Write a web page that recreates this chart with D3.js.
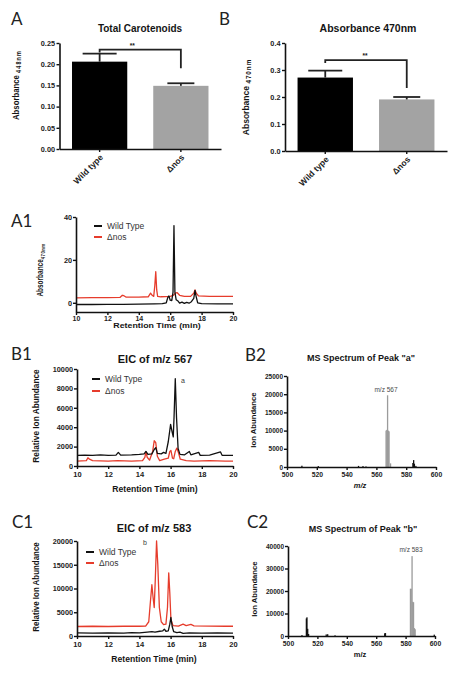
<!DOCTYPE html>
<html><head><meta charset="utf-8">
<script src="https://cdn.jsdelivr.net/npm/d3@7"></script>
<style>body{margin:0;background:#fff;}svg{display:block;}</style>
</head><body>
<svg id="fig" width="466" height="678"></svg>
<script>
// ---------------- DATA ----------------
const barCategories = ["Wild type", "Δnos"];
const barColors = ["#000000", "#a3a3a3"];
const carotenoidMean = [0.206, 0.149];
const carotenoidSem = [0.019, 0.006];
const carotenoidTicks = [0, 0.05, 0.10, 0.15, 0.20, 0.25];
const abs470Mean = [0.272, 0.191];
const abs470Sem = [0.026, 0.009];
const abs470Ticks = [0, 0.1, 0.2, 0.3, 0.4];

const seriesNames = ["Wild Type", "Δnos"];
const rtTicks = [10, 12, 14, 16, 18, 20];

const a1YTicks = [0, 20, 40];
const a1WildType = [[10,-0.8],[11,-0.8],[12,-0.7],[13,-0.7],[14,-0.6],[15,-0.5],[15.5,-0.4],[15.75,0],[15.85,2.5],[15.92,3.2],[16.0,1.2],[16.1,1.0],[16.18,5],[16.24,36],[16.3,5],[16.38,1.4],[16.5,0.8],[16.6,-0.2],[16.75,0.3],[16.9,-0.3],[17.05,0.2],[17.2,-0.2],[17.35,0.5],[17.5,2],[17.58,5.8],[17.65,3],[17.75,0],[18,-0.4],[19,-0.5],[20,-0.5]];
const a1Dnos = [[10,2.3],[11,2.4],[12,2.4],[12.8,2.5],[12.95,3.5],[13.05,3.3],[13.2,2.6],[14,2.6],[14.6,2.8],[14.75,4.5],[14.85,3.5],[14.95,3.0],[15.02,8],[15.08,14.5],[15.14,6],[15.2,3],[15.4,2.8],[16.0,3.0],[16.2,3.5],[16.35,4.6],[16.45,4.7],[16.6,3.5],[16.9,3.0],[17.3,3.0],[17.5,4.5],[17.58,6.0],[17.66,4.5],[17.8,3.2],[18.5,3.0],[19.5,3.0],[20,3.0]];

const b1YTicks = [0, 2000, 4000, 6000, 8000, 10000];
const b1WildType = [[10,1100],[10.5,1120],[11,1100],[11.5,1150],[12,1100],[12.5,1120],[12.65,1400],[12.8,1120],[13.5,1150],[14.0,1200],[14.3,1250],[14.42,1500],[14.55,1200],[14.8,1250],[14.95,1700],[15.05,1900],[15.15,1300],[15.4,1250],[15.55,1400],[15.7,1300],[15.85,2500],[16.0,4300],[16.1,3500],[16.17,3000],[16.22,5000],[16.3,9000],[16.38,5000],[16.48,1800],[16.6,1200],[16.9,1150],[17.2,1500],[17.3,1150],[17.8,1400],[17.9,1100],[18.5,1120],[19.2,1450],[19.3,1100],[20,1100]];
const b1Dnos = [[10,500],[10.6,550],[10.7,850],[10.8,700],[11.0,550],[12.0,500],[12.6,550],[13.5,500],[14.2,550],[14.35,900],[14.42,1450],[14.5,900],[14.65,600],[14.85,1500],[14.95,2600],[15.05,2400],[15.15,1000],[15.3,550],[15.6,700],[15.85,800],[15.95,1500],[16.02,1600],[16.12,800],[16.2,750],[16.3,1500],[16.4,1850],[16.5,1400],[16.62,700],[17.0,550],[17.5,500],[18.5,550],[19.5,500],[20,500]];

const c1YTicks = [0, 5000, 10000, 15000, 20000];
const c1WildType = [[10,650],[11,600],[12,650],[13,600],[13.5,700],[14,650],[14.5,800],[14.8,900],[15.0,800],[15.3,1000],[15.5,1100],[15.6,1450],[15.7,1000],[15.85,1100],[15.95,2500],[16.02,3900],[16.1,2000],[16.2,900],[16.4,700],[16.6,800],[16.8,550],[17.2,650],[18,600],[19,650],[20,600]];
const c1Dnos = [[10,2000],[11,2050],[12,2000],[13,2050],[14,2050],[14.4,2100],[14.6,3000],[14.7,7000],[14.8,10800],[14.88,8000],[14.95,6000],[15.02,12000],[15.1,20000],[15.18,15000],[15.28,6000],[15.4,3000],[15.55,2400],[15.7,2500],[15.8,6000],[15.88,13300],[15.95,9000],[16.02,3500],[16.15,2200],[16.5,2100],[16.8,2500],[17.0,2200],[17.3,2450],[17.5,2150],[18.5,2100],[19.5,2050],[20,2050]];

const mzTicks = [500, 520, 540, 560, 580, 600];
const b2YTicks = [0, 5000, 10000, 15000, 20000, 25000];
const b2Main = [[566.5,10000],[567,10200],[567.5,19700],[568,10000],[568.5,9800],[569.5,1000]];
const b2Other = [[510,350],[521,250],[548,300],[551,250],[553,150],[584.5,1100],[585,1900],[585.5,900],[586.5,300]];
const c2YTicks = [0, 10000, 20000, 30000, 40000];
const c2Main = [[583.3,21000],[583.8,21000],[584.4,35500],[584.9,15200],[585.4,15000],[586,3500],[586.5,3000]];
const c2Other = [[509.5,400],[512.5,7800],[512.9,8300],[513.4,3200],[514,900],[526,700],[527,800],[532,300],[565.8,1200],[566.3,1300],[599.5,600]];

// ---------------- DRAWING ----------------
const svg = d3.select("#fig");
const SANS = "'Liberation Sans', Arial, sans-serif";
const RED = "#e63c2c";

function txt(g, o) {
  const t = g.append("text")
    .attr("transform", `translate(${o.x},${o.y}) rotate(${o.r||0}) scale(${o.sx||1},${o.sy||1})`)
    .attr("font-family", o.family || SANS)
    .attr("font-size", o.size)
    .attr("font-weight", o.weight || "bold")
    .attr("text-anchor", o.anchor || "middle")
    .attr("fill", o.fill || "#151515");
  if (o.italic) t.attr("font-style", "italic");
  if (o.parts) {
    o.parts.forEach(p => {
      const s = t.append("tspan").text(p.text);
      if (p.size) s.attr("font-size", p.size);
      if (p.dy) s.attr("dy", p.dy);
      if (p.ls) s.attr("letter-spacing", p.ls);
    });
  } else t.text(o.text);
  return t;
}
function styleAxis(g, fs) {
  g.select(".domain").attr("stroke", "#111").attr("stroke-width", 1.6);
  g.selectAll(".tick line").attr("stroke", "#111").attr("stroke-width", 1.4);
  g.selectAll(".tick text").attr("font-family", SANS).attr("font-weight", "bold")
    .attr("font-size", fs).attr("fill", "#222");
}
function panelLetter(x, y, s) {
  txt(svg, {x, y, text: s, size: 17, weight: "normal", anchor: "start", family: "Lato, 'Open Sans', sans-serif", fill: "#222"});
}

function barPanel(c) {
  const g = svg.append("g");
  const x = d3.scaleBand().domain(barCategories).range([c.x0, c.x1]).paddingInner(0.32).paddingOuter(0.154);
  const y = d3.scaleLinear().domain([0, c.ymax]).range([c.yb, c.yt]);
  const bw = x.bandwidth();
  g.selectAll("rect.bar").data(barCategories).join("rect")
    .attr("x", d => x(d)).attr("y", (d, i) => y(c.mean[i]))
    .attr("width", bw).attr("height", (d, i) => c.yb - y(c.mean[i]))
    .attr("fill", (d, i) => barColors[i]);
  barCategories.forEach((d, i) => {
    const cx = x(d) + bw / 2, top = y(c.mean[i] + c.sem[i]);
    g.append("line").attr("x1", cx).attr("x2", cx).attr("y1", y(c.mean[i])).attr("y2", top)
      .attr("stroke", "#222").attr("stroke-width", 1.8);
    g.append("line").attr("x1", cx - c.cap[i] / 2).attr("x2", cx + c.cap[i] / 2).attr("y1", top).attr("y2", top)
      .attr("stroke", "#222").attr("stroke-width", 1.8);
  });
  const xa = x(barCategories[0]) + bw / 2, xb = x(barCategories[1]) + bw / 2;
  const by = y(c.mean[0] + c.sem[0]) - c.gap;
  const bd = y(c.mean[1] + c.sem[1]) - c.drop;
  g.append("path").attr("d", `M${xa},${by + 3}V${by}H${xb}V${bd}`)
    .attr("fill", "none").attr("stroke", "#222").attr("stroke-width", 1.8);
  txt(g, {x: (xa + xb) / 2 + c.starDx, y: by - 2, text: "**", size: 6.5});
  const ya = g.append("g").attr("transform", `translate(${c.x0},0)`)
    .call(d3.axisLeft(y).tickValues(c.ticks).tickFormat(d3.format(c.fmt)).tickSize(3).tickSizeOuter(0).tickPadding(1.5));
  styleAxis(ya, 7.3);
  const xa2 = g.append("g").attr("transform", `translate(0,${c.yb})`)
    .call(d3.axisBottom(x).tickSize(3).tickSizeOuter(0));
  styleAxis(xa2, 8.5);
  xa2.selectAll(".tick text").attr("x", 0).attr("y", 0).attr("dy", 0)
    .attr("transform", "translate(4,9) rotate(-45)").attr("text-anchor", "end");
  txt(g, {x: c.tx, y: c.ty, text: c.title, size: c.tsize});
  txt(g, {x: c.ylx, y: c.yly, r: -90, sx: c.ysx, size: c.ysize,
    parts: [{text: "Absorbance "}, {text: c.sub, size: c.subSize, dy: 2, ls: c.subLs}]});
}

function legend(g, c) {
  seriesNames.forEach((n, i) => {
    const yy = c.ly + i * c.lgap;
    g.append("line").attr("x1", c.lx).attr("x2", c.lx + 8).attr("y1", yy).attr("y2", yy)
      .attr("stroke", i ? RED : "#111").attr("stroke-width", 2);
    txt(g, {x: c.lx + 13, y: yy + 3, text: n, size: 8.5, weight: "normal", anchor: "start", fill: "#333"});
  });
}

function chromPanel(c) {
  const g = svg.append("g");
  const x = d3.scaleLinear().domain([10, 20]).range([c.x0, c.x1]);
  const y = d3.scaleLinear().domain(c.ydom).range([c.yb, c.yt]);
  const line = d3.line().x(d => x(d[0])).y(d => y(d[1]));
  g.append("path").datum(c.red).attr("d", line).attr("fill", "none").attr("stroke", RED).attr("stroke-width", 1.3).attr("stroke-linejoin", "round");
  g.append("path").datum(c.black).attr("d", line).attr("fill", "none").attr("stroke", "#111").attr("stroke-width", 1.3).attr("stroke-linejoin", "round");
  const ya = g.append("g").attr("transform", `translate(${c.x0},0)`)
    .call(d3.axisLeft(y).tickValues(c.yticks).tickFormat(d3.format("d")).tickSize(3).tickSizeOuter(0).tickPadding(1));
  styleAxis(ya, 7.3);
  const xa = g.append("g").attr("transform", `translate(0,${c.yb})`)
    .call(d3.axisBottom(x).tickValues(rtTicks).tickSize(3).tickSizeOuter(0).tickPadding(c.xpad));
  styleAxis(xa, c.xfs);
  legend(g, c);
  if (c.title) txt(g, {x: c.tx, y: c.ty, text: c.title, size: 10, sx: 1.1});
  txt(g, {x: c.xtx, y: c.xty, text: "Retention Time (min)", size: c.xtsize, sx: c.xtsx});
  if (c.ysub) {
    txt(g, {x: c.ylx, y: c.yly, r: -90, sx: c.ysx, size: c.ysize,
      parts: [{text: c.ylabel}, {text: c.ysub, size: 6, dy: 2, ls: 0.6}]});
  } else {
    txt(g, {x: c.ylx, y: c.yly, r: -90, sx: c.ysx, size: c.ysize, text: c.ylabel});
  }
  if (c.note) txt(g, {x: c.nx, y: c.ny, text: c.note, size: 7, weight: "normal", fill: "#3a3a3a"});
}

function msPanel(c) {
  const g = svg.append("g");
  const x = d3.scaleLinear().domain([500, 600]).range([c.x0, c.x1]);
  const y = d3.scaleLinear().domain([0, c.ymax]).range([c.yb, c.yt]);
  const w = 1.3;
  g.selectAll("rect.m").data(c.main).join("rect")
    .attr("x", d => x(d[0]) - w / 2).attr("y", d => y(d[1])).attr("width", w)
    .attr("height", d => c.yb - y(d[1])).attr("fill", "#9b9b9b");
  g.selectAll("rect.o").data(c.other).join("rect")
    .attr("x", d => x(d[0]) - w / 2).attr("y", d => y(d[1])).attr("width", w)
    .attr("height", d => c.yb - y(d[1])).attr("fill", "#111");
  const ya = g.append("g").attr("transform", `translate(${c.x0},0)`)
    .call(d3.axisLeft(y).tickValues(c.yticks).tickFormat(d3.format("d")).tickSize(3).tickSizeOuter(0).tickPadding(1));
  styleAxis(ya, 6.5);
  const xa = g.append("g").attr("transform", `translate(0,${c.yb})`)
    .call(d3.axisBottom(x).tickValues(mzTicks).tickSize(3).tickSizeOuter(0).tickPadding(2.5));
  styleAxis(xa, 6.8);
  txt(g, {x: c.tx, y: c.ty, text: c.title, size: 9});
  txt(g, {x: c.ax, y: c.ay, text: c.ann, size: 6.5, weight: "normal", fill: "#4a4a4a"});
  txt(g, {x: c.xtx, y: c.xty, text: "m/z", size: 7.5, italic: c.italic});
  txt(g, {x: c.ylx, y: c.yly, r: -90, size: 7.7, text: "Ion Abundance"});
}

panelLetter(11, 25, "A");
panelLetter(219, 25, "B");
panelLetter(11, 227, "A1");
panelLetter(11, 360, "B1");
panelLetter(245, 361, "B2");
panelLetter(12, 528, "C1");
panelLetter(247, 528, "C2");

barPanel({x0: 59.5, x1: 221, yb: 149, yt: 43, ymax: 0.25, ticks: carotenoidTicks, fmt: ".2f",
  mean: carotenoidMean, sem: carotenoidSem, cap: [34, 27], gap: 4, drop: 15, starDx: -8,
  title: "Total Carotenoids", tx: 140, ty: 32, tsize: 10,
  ylx: 18.5, yly: 85, ysx: 0.82, ysize: 9.5, sub: "448nm", subSize: 6.5, subLs: 1.5});
barPanel({x0: 285, x1: 447, yb: 151, yt: 43, ymax: 0.4, ticks: abs470Ticks, fmt: ".1f",
  mean: abs470Mean, sem: abs470Sem, cap: [34, 27], gap: 10.5, drop: 9, starDx: -1,
  title: "Absorbance 470nm", tx: 368, ty: 32, tsize: 10.5,
  ylx: 248.5, yly: 97, ysx: 0.97, ysize: 8.8, sub: "470nm", subSize: 6.5, subLs: 1});

chromPanel({x0: 76, x1: 233, yb: 312, yt: 217, ydom: [-4.3, 40], yticks: a1YTicks,
  black: a1WildType, red: a1Dnos, lx: 94, ly: 226, lgap: 11, xpad: 1.5, xfs: 7,
  xtx: 157, xty: 327.5, xtsize: 7.8, xtsx: 1.13,
  ylx: 43, yly: 270, ysx: 0.72, ysize: 9, ylabel: "Absorbance", ysub: "470nm"});
chromPanel({x0: 77, x1: 233, yb: 466, yt: 369, ydom: [0, 10000], yticks: b1YTicks,
  black: b1WildType, red: b1Dnos, lx: 92, ly: 379, lgap: 12, xpad: 2.5, xfs: 7.5,
  title: "EIC of m/z 567", tx: 155, ty: 363, note: "a", nx: 183, ny: 383,
  xtx: 155, xty: 492, xtsize: 8.6, xtsx: 1,
  ylx: 39.3, yly: 416, ysx: 0.92, ysize: 9, ylabel: "Relative Ion Abundance"});
chromPanel({x0: 77, x1: 233, yb: 636, yt: 541, ydom: [0, 20000], yticks: c1YTicks,
  black: c1WildType, red: c1Dnos, lx: 86, ly: 552, lgap: 11, xpad: 2.5, xfs: 7.5,
  title: "EIC of m/z 583", tx: 154, ty: 532, note: "b", nx: 145, ny: 545,
  xtx: 154, xty: 662, xtsize: 8.6, xtsx: 1,
  ylx: 39.3, yly: 587, ysx: 0.88, ysize: 9, ylabel: "Relative Ion Abundance"});

msPanel({x0: 287, x1: 436, yb: 467, yt: 376, ymax: 25000, yticks: b2YTicks, main: b2Main, other: b2Other,
  title: 'MS Spectrum of Peak "a"', tx: 361, ty: 361, ann: "m/z 567", ax: 386, ay: 392,
  xtx: 360, xty: 488, italic: true, ylx: 256, yly: 420});
msPanel({x0: 288, x1: 435, yb: 636, yt: 546, ymax: 40000, yticks: c2YTicks, main: c2Main, other: c2Other,
  title: 'MS Spectrum of Peak "b"', tx: 363, ty: 532, ann: "m/z 583", ax: 411, ay: 552,
  xtx: 360, xty: 657, italic: false, ylx: 257, yly: 589});
</script>
</body></html>
